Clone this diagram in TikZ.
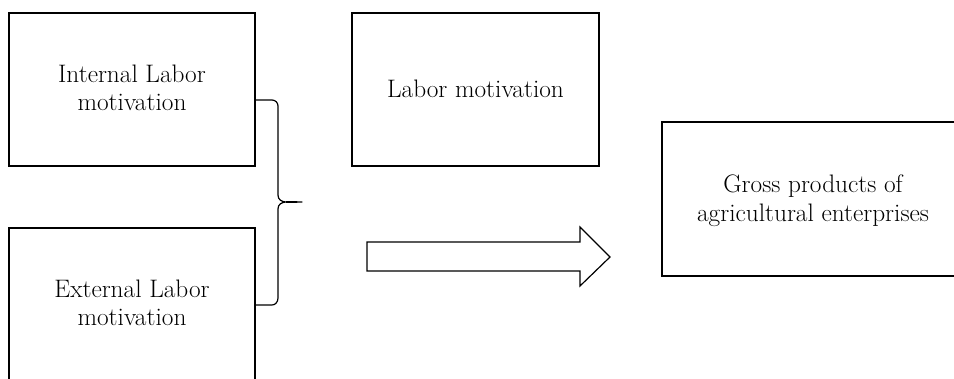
\documentclass[tikz,border=0pt]{standalone}
\usetikzlibrary{positioning}
\begin{document}
\begin{tikzpicture}[x=1pt,y=-1pt,
  box/.style={draw=black,line width=1.2pt,fill=white,rectangle,inner sep=0pt},
  lbl/.style={align=center,font=\fontsize{25.3}{28}\selectfont,inner sep=0pt,anchor=base},
  conn/.style={draw=black,line width=1.2pt}]
\useasboundingbox (0,0) rectangle (954,379);
\clip (0,0) rectangle (954,379);
% boxes
\node[box,minimum width=246pt,minimum height=153pt] (int) at (132,89.5) {};
\node[box,minimum width=246pt,minimum height=200pt] (ext) at (132,328) {};
\node[box,minimum width=247pt,minimum height=153pt] (lab) at (475.5,89.5) {};
\node[box,minimum width=320pt,minimum height=154pt] (gro) at (822,199) {};
% labels
\node[lbl] (intt) at (132,83) {Internal Labor};
\node[lbl] (intb) at (132,111) {motivation};
\node[lbl] (extt) at (132,298) {External Labor};
\node[lbl] (extb) at (132,326) {motivation};
\node[lbl] (labt) at (475.5,98) {Labor motivation};
\node[lbl] (grot) at (813,193) {Gross products of};
\node[lbl] (grob) at (813,222) {agricultural enterprises};
% brace
\coordinate (bt) at (int.east |- 0,100);
\coordinate (bb) at (ext.east |- 0,305);
\coordinate (tip) at (302,202);
\draw[conn,line join=round] (bt) -- (272,100) to[out=0,in=90] (278,106) -- (278,195)
  to[out=-90,in=180] (tip) to[out=180,in=90] (278,209) -- (278,298)
  to[out=-90,in=0] (272,305) -- (bb);
% big arrow
\draw[conn,fill=white,line join=miter] (367,242) -- (580,242) -- (580,227) -- (610,257)
  -- (580,286) -- (580,271) -- (367,271) -- cycle;
\end{tikzpicture}
\end{document}
